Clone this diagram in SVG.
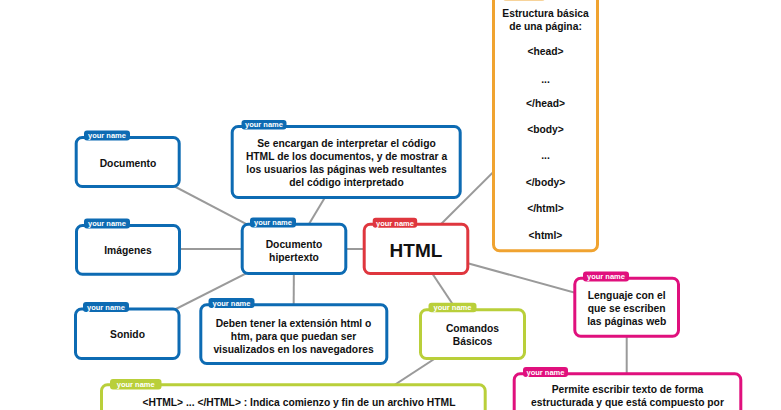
<svg xmlns="http://www.w3.org/2000/svg" width="781" height="410" viewBox="0 0 781 410">
<style>
.box{fill:#fff;stroke-width:3}
.b{stroke:#0d6bb3}.r{stroke:#df363e}.g{stroke:#b9cf3a}.m{stroke:#e0107d}.o{stroke:#f0a330}
.tb{fill:#0d6bb3}.tr{fill:#df363e}.tg{fill:#b9cf3a}.tm{fill:#e0107d}.to{fill:#f7d39a}
.tag{font-family:"Liberation Sans",Arial,sans-serif;font-weight:bold;font-size:7.5px;fill:#fff;text-anchor:middle}
.t{font-family:"Liberation Sans",Arial,sans-serif;font-weight:bold;font-size:10.3px;fill:#111;text-anchor:middle}
.big{font-size:19px}
.c{stroke:#9a9a9a;stroke-width:2;fill:none}
</style>
<rect width="781" height="410" fill="#fff"/>
<g id="connectors" class="c">
<line x1="128" y1="162" x2="294" y2="249"/>
<line x1="128" y1="249" x2="294" y2="249"/>
<line x1="127.5" y1="333.5" x2="294" y2="249"/>
<line x1="346.2" y1="162" x2="294" y2="249"/>
<line x1="293.5" y1="334" x2="294" y2="249"/>
<line x1="294" y1="249" x2="416" y2="249"/>
<line x1="416" y1="249" x2="545.5" y2="120"/>
<line x1="416" y1="249" x2="626.7" y2="307"/>
<line x1="416" y1="249" x2="472.5" y2="334"/>
<line x1="472.5" y1="334" x2="293.4" y2="451"/>
<line x1="626.7" y1="307" x2="626.7" y2="414"/>
</g>
<g id="node-documento">
<rect class="box b" x="76.2" y="137.5" width="103" height="49" rx="6"/>
<rect class="tb" x="84" y="130.5" width="46" height="10" rx="3"/>
<text class="tag" x="107" y="138.2">your name</text>
<text class="t" x="128" y="167">Documento</text>
</g>
<g id="node-imagenes">
<rect class="box b" x="76.5" y="225.5" width="103" height="48.7" rx="6"/>
<rect class="tb" x="84" y="218.5" width="46" height="10" rx="3"/>
<text class="tag" x="107" y="226.2">your name</text>
<text class="t" x="128" y="254.3">Imágenes</text>
</g>
<g id="node-sonido">
<rect class="box b" x="75.5" y="309" width="103.5" height="49.5" rx="6"/>
<rect class="tb" x="83" y="302" width="46" height="10" rx="3"/>
<text class="tag" x="106" y="309.7">your name</text>
<text class="t" x="127.5" y="338.3">Sonido</text>
</g>
<g id="node-navegadores">
<rect class="box b" x="232.2" y="126.5" width="228" height="71" rx="6"/>
<rect class="tb" x="241.5" y="120" width="45" height="9.5" rx="3"/>
<text class="tag" x="264" y="127.4">your name</text>
<text class="t" x="346.5" y="147">Se encargan de interpretar el código</text>
<text class="t" x="346.5" y="160">HTML de los documentos, y de mostrar a</text>
<text class="t" x="346.5" y="173">los usuarios las páginas web resultantes</text>
<text class="t" x="346.5" y="186">del código interpretado</text>
</g>
<g id="node-hipertexto">
<rect class="box b" x="242.2" y="224.2" width="103.6" height="49.3" rx="6"/>
<rect class="tb" x="250" y="217.5" width="46" height="10" rx="3"/>
<text class="tag" x="273" y="225.2">your name</text>
<text class="t" x="294" y="247.5">Documento</text>
<text class="t" x="294" y="260.5">hipertexto</text>
</g>
<g id="node-extension">
<rect class="box b" x="200.8" y="304.8" width="186" height="58.7" rx="6"/>
<rect class="tb" x="208.5" y="298" width="46" height="10" rx="3"/>
<text class="tag" x="231.5" y="305.7">your name</text>
<text class="t" x="293.5" y="326.7">Deben tener la extensión html o</text>
<text class="t" x="293.5" y="339.5">htm, para que puedan ser</text>
<text class="t" x="293.5" y="352.5">visualizados en los navegadores</text>
</g>
<g id="node-html">
<rect class="box r" x="364.2" y="224.2" width="103.6" height="49.3" rx="6"/>
<rect class="tr" x="372.7" y="217.8" width="44.5" height="10" rx="3"/>
<text class="tag" x="395" y="225.5">your name</text>
<text class="t big" x="416" y="257">HTML</text>
</g>
<g id="node-estructura">
<rect class="box o" x="493.5" y="-12" width="104" height="262.8" rx="6"/>
<rect class="to" x="503" y="-9" width="42" height="10" rx="3"/>
<text class="t" x="545.5" y="16.7">Estructura básica</text>
<text class="t" x="545.5" y="29.5">de una página:</text>
<text class="t" x="545.5" y="55">&lt;head&gt;</text>
<text class="t" x="545.5" y="82.7">...</text>
<text class="t" x="545.5" y="107.3">&lt;/head&gt;</text>
<text class="t" x="545.5" y="133.3">&lt;body&gt;</text>
<text class="t" x="545.5" y="159.3">...</text>
<text class="t" x="545.5" y="186">&lt;/body&gt;</text>
<text class="t" x="545.5" y="212">&lt;/html&gt;</text>
<text class="t" x="545.5" y="238.7">&lt;html&gt;</text>
</g>
<g id="node-lenguaje">
<rect class="box m" x="574.8" y="278.2" width="103.7" height="58" rx="6"/>
<rect class="tm" x="583" y="271.5" width="46" height="10" rx="3"/>
<text class="tag" x="606" y="279.2">your name</text>
<text class="t" x="626.7" y="299.3">Lenguaje con el</text>
<text class="t" x="626.7" y="312.3">que se escriben</text>
<text class="t" x="626.7" y="325.3">las páginas web</text>
</g>
<g id="node-comandos">
<rect class="box g" x="420.5" y="309.8" width="104" height="48.7" rx="6"/>
<rect class="tg" x="428.5" y="302.7" width="48" height="9.5" rx="3"/>
<text class="tag" x="452.5" y="310.2">your name</text>
<text class="t" x="472.5" y="332.3">Comandos</text>
<text class="t" x="472.5" y="345.3">Básicos</text>
</g>
<g id="node-htmltag">
<rect class="box g" x="101.5" y="384.8" width="383.7" height="80" rx="6"/>
<rect class="tg" x="110" y="379" width="51.5" height="10.5" rx="3"/>
<text class="tag" x="135.7" y="387">your name</text>
<text class="t" x="299" y="406">&lt;HTML&gt; ... &lt;/HTML&gt; : Indica comienzo y fin de un archivo HTML</text>
</g>
<g id="node-permite">
<rect class="box m" x="514.2" y="373.8" width="226.6" height="80" rx="6"/>
<rect class="tm" x="523" y="367" width="45" height="10" rx="3"/>
<text class="tag" x="545.5" y="374.7">your name</text>
<text class="t" x="627.5" y="393">Permite escribir texto de forma</text>
<text class="t" x="627.5" y="406">estructurada y que está compuesto por</text>
</g>
</svg>
